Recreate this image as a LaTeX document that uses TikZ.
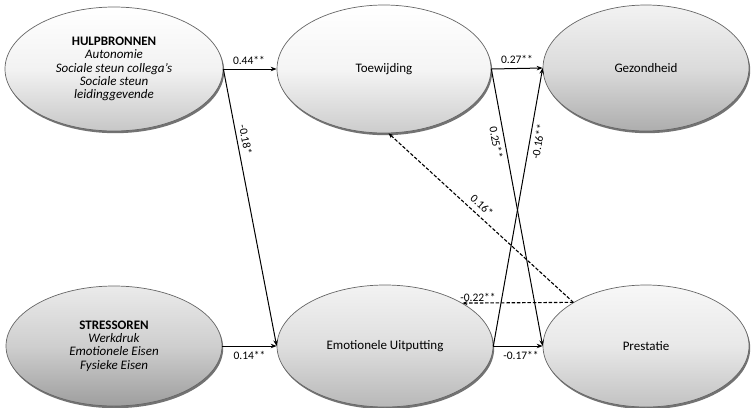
\documentclass[tikz,border=0pt]{standalone}
\usepackage{fontspec}
\setmainfont{Carlito}
\usetikzlibrary{shapes.geometric,arrows.meta,shadows}
\begin{document}
\begin{tikzpicture}[x=1pt,y=-1pt,
  ell/.style={ellipse, draw=black!60, line width=0.7pt, inner sep=0pt, align=center,
    font=\fontsize{13}{13.4}\selectfont,
    drop shadow={shadow xshift=1.2pt, shadow yshift=-2.2pt, opacity=0.55, fill=black}},
  lab/.style={font=\fontsize{11.5}{12}\selectfont, inner sep=1pt},
  conn/.style={line width=1pt, -{Stealth[length=6pt,width=4.5pt]}},
  dconn/.style={line width=1.1pt, dash pattern=on 3.5pt off 1.8pt, -{Stealth[length=5pt,width=4pt]}}
]
\useasboundingbox (0,0) rectangle (751,407);
\node[ell, minimum width=218pt, minimum height=124pt, top color=white, bottom color=black!22, middle color=black!5] (H) at (114,69)
  {\textbf{HULPBRONNEN}\\\textit{Autonomie}\\\textit{Sociale steun collega’s}\\\textit{Sociale steun}\\\textit{leidinggevende}};
\node[ell, minimum width=214pt, minimum height=128pt, top color=white, bottom color=black!20, middle color=black!4] (T) at (384,69) {Toewijding};
\node[ell, minimum width=206pt, minimum height=126pt, top color=black!5, bottom color=black!32, middle color=black!14] (G) at (646,68) {Gezondheid};
\node[ell, minimum width=216pt, minimum height=120pt, top color=black!8, bottom color=black!38, middle color=black!19] (S) at (114,346)
  {\textbf{STRESSOREN}\\\textit{Werkdruk}\\\textit{Emotionele Eisen}\\\textit{Fysieke Eisen}};
\node[ell, minimum width=216pt, minimum height=122pt, top color=black!5, bottom color=black!28, middle color=black!13] (E) at (385,346) {Emotionele Uitputting};
\node[ell, minimum width=206pt, minimum height=122pt, top color=black!3, bottom color=black!24, middle color=black!9] (P) at (646,346) {Prestatie};

\draw[conn] (H.east) -- node[lab, above=3pt, pos=0.48] (l1) {0.44**} (T.west);
\draw[conn] (H.east) -- node[lab, sloped, above=3pt, pos=0.26] (l2) {-0.18*} (E.west);
\draw[conn] (S.east) -- node[lab, below=4pt, pos=0.5] (l3) {0.14**} (E.west);
\draw[conn] (T.east) -- node[lab, above=3pt, pos=0.5] (l4) {0.27**} (G.west);
\draw[conn] (T.east) -- node[lab, sloped, below=3pt, pos=0.26] (l5) {0.25**} (P.west);
\draw[conn] (E.east) -- node[lab, sloped, below=3pt, pos=0.74] (l6) {-0.16**} (G.west);
\draw[conn] (E.east) -- node[lab, below=4pt, pos=0.56] (l7) {-0.17**} (P.west);
\draw[dconn] (P.149) -- node[lab, sloped, above=4pt, pos=0.53] (l8) {0.16*} (T.274);
\draw[dconn] (P.149) -- node[lab, above=0pt, pos=0.86] (l9) {-0.22**} (E.29);
\end{tikzpicture}
\end{document}
